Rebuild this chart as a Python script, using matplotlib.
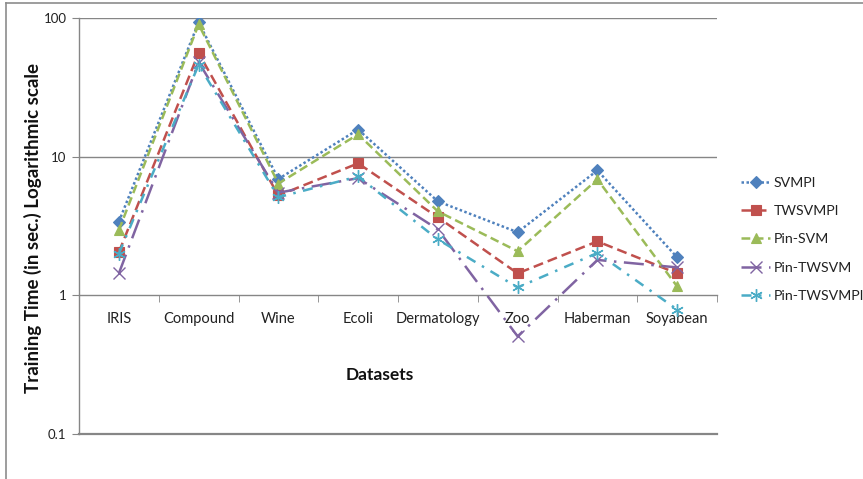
import matplotlib
matplotlib.use("Agg")
import matplotlib.pyplot as plt
from matplotlib.lines import Line2D
import numpy as np

plt.rcParams['font.family'] = ['Lato', 'DejaVu Sans']

datasets = ["IRIS", "Compound", "Wine", "Ecoli", "Dermatology", "Zoo", "Haberman", "Soyabean"]
svmpi = [3.4, 93, 6.9, 15.7, 4.76, 2.85, 7.96, 1.88]
twsvmpi = [2.05, 56, 5.25, 8.95, 3.65, 1.44, 2.45, 1.44]
pin_svm = [2.95, 90, 6.4, 14.5, 4.03, 2.08, 6.86, 1.16]
pin_twsvm = [1.44, 48, 5.5, 7.0, 2.99, 0.506, 1.8, 1.59]
pin_twsvmpi = [2.0, 46, 5.1, 7.2, 2.53, 1.14, 2.02, 0.79]

W, H = 863, 479
fig = plt.figure(figsize=(W / 100, H / 100), dpi=100)
ax = fig.add_axes([79 / W, 1 - 434 / H, (717 - 79) / W, (434 - 18) / H])

x = np.arange(len(datasets))
series = [
    ("SVMPI", svmpi, "#4F81BD", "D", (0, (1, 1)), 6),
    ("TWSVMPI", twsvmpi, "#C0504D", "s", (0, (4, 2)), 7),
    ("Pin-SVM", pin_svm, "#9BBB59", "^", (0, (3.5, 1.8)), 7),
    ("Pin-TWSVM", pin_twsvm, "#8064A2", "x", (0, (8, 3, 1, 3)), 8),
    ("Pin-TWSVMPI", pin_twsvmpi, "#4BACC6", (6, 2, 0), (0, (4, 3, 1, 3)), 9),
]
handles = []
for name, vals, col, mk, ls, ms in series:
    ln, = ax.plot(x, vals, color=col, linestyle=ls, linewidth=1.8, marker=mk,
                  markersize=ms, markerfacecolor=col, markeredgecolor=col,
                  markeredgewidth=1.0 if mk in ("x",) or isinstance(mk, tuple) else 0.8,
                  label=name, zorder=3)
    handles.append(ln)

ax.set_yscale("log")
ax.set_ylim(0.1, 100)
ax.set_xlim(-0.5, len(datasets) - 0.5)

for v in (10, 100):
    ax.axhline(v, color="#868686", linewidth=1.0, zorder=1)
ax.axhline(0.1, color="#868686", linewidth=1.6, zorder=1, clip_on=False)

for s in ("top", "right"):
    ax.spines[s].set_visible(False)
ax.spines["left"].set_color("#868686")
ax.spines["left"].set_linewidth(1.0)
ax.spines["bottom"].set_position(("data", 1))
ax.spines["bottom"].set_color("#868686")
ax.spines["bottom"].set_linewidth(1.0)

ax.set_yticks([0.1, 1, 10, 100])
ax.set_yticklabels(["0.1", "1", "10", "100"])
ax.yaxis.set_minor_locator(matplotlib.ticker.NullLocator())
ax.tick_params(axis="y", which="major", length=5, color="#868686", labelsize=9.5,
               labelcolor="#222222", pad=4)

ax.set_xticks(x)
ax.set_xticklabels(datasets)
ax.set_xticks(np.arange(-0.5, len(datasets)), minor=True)
ax.tick_params(axis="x", which="major", length=0, labelsize=10.5, labelcolor="#222222", pad=12)
ax.tick_params(axis="x", which="minor", length=5, color="#868686", direction="out")

ax.set_ylabel("Training Time (in sec.) Logarithmic scale", fontsize=13.5, fontweight="bold",
              color="#111111")
ax.yaxis.set_label_coords(42 / W, 1 - 228 / H, transform=fig.transFigure)
fig.text(380 / W, 1 - 375 / H, "Datasets", fontsize=12.5, fontweight="bold",
         color="#111111", ha="center", va="center")

leg = fig.legend(handles=handles, loc="upper left",
                 bbox_to_anchor=(735 / W, 1 - 171 / H), frameon=False,
                 fontsize=10.2, handlelength=2.1, handletextpad=0.25,
                 labelspacing=1.15, borderaxespad=0)
for t in leg.get_texts():
    t.set_color("#222222")

fig.add_artist(Line2D([6 / W, 1], [1 - 3 / H, 1 - 3 / H], color="#8c8c8c", linewidth=1.2,
                      transform=fig.transFigure))
fig.add_artist(Line2D([6 / W, 6 / W], [0, 1 - 3 / H], color="#8c8c8c", linewidth=1.2,
                      transform=fig.transFigure))

fig.savefig("out.png", dpi=100)
